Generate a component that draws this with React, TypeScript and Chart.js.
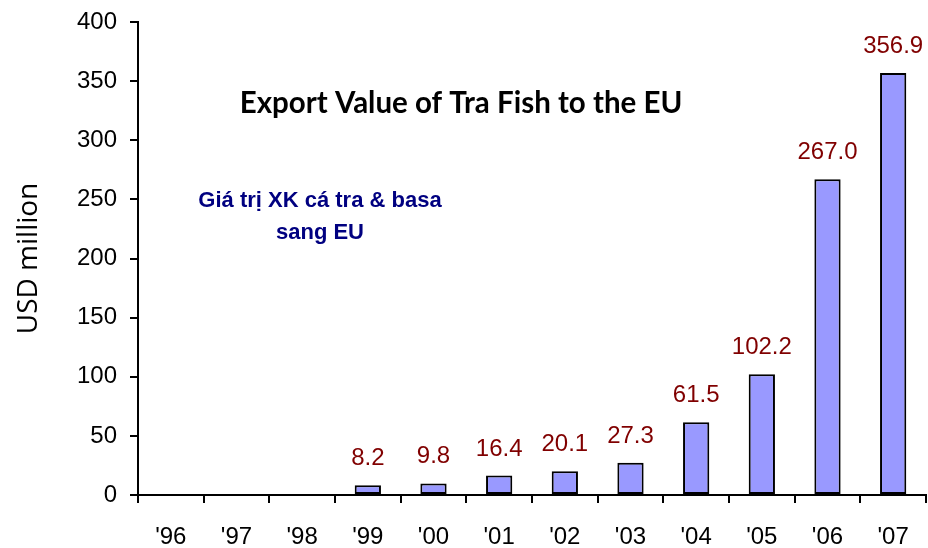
import React, { useEffect, useRef } from "react";
import { Chart, registerables } from "chart.js";

Chart.register(...registerables);

const categories = ["'96", "'97", "'98", "'99", "'00", "'01", "'02", "'03", "'04", "'05", "'06", "'07"];
const exportValues: (number | null)[] = [null, null, null, 8.2, 9.8, 16.4, 20.1, 27.3, 61.5, 102.2, 267.0, 356.9];
const yTickMin = 0;
const yTickMax = 400;
const yTickStep = 50;
const chartTitle = "Export Value of Tra Fish to the EU";
const subtitleLines = ["Giá trị XK cá tra & basa", "sang EU"];
const yAxisTitle = "USD million";

const overlayPlugin = {
  id: "overlayText",
  afterDatasetsDraw(chart: any) {
    const ctx = chart.ctx;
    ctx.save();
    const meta = chart.getDatasetMeta(0);
    ctx.font = "24px 'Liberation Sans', Arial, sans-serif";
    ctx.fillStyle = "#800000";
    ctx.textAlign = "center";
    ctx.textBaseline = "alphabetic";
    meta.data.forEach((bar: any, i: number) => {
      const v = exportValues[i];
      if (v == null) return;
      ctx.fillText(v.toFixed(1), bar.x, bar.y - 20);
    });
    ctx.font = "bold 29.5px Lato, sans-serif";
    ctx.fillStyle = "#000000";
    ctx.textBaseline = "middle";
    ctx.fillText(chartTitle, 461, 103);
    ctx.font = "bold 22px 'Liberation Sans', Arial, sans-serif";
    ctx.fillStyle = "#000080";
    ctx.fillText(subtitleLines[0], 320, 201);
    ctx.fillText(subtitleLines[1], 320, 233);
    ctx.restore();
  },
};

export default function App() {
  const canvasRef = useRef<HTMLCanvasElement | null>(null);

  useEffect(() => {
    document.body.style.margin = "0";
    const canvas = canvasRef.current;
    if (!canvas) return;
    const chart = new Chart(canvas, {
      type: "bar",
      data: {
        labels: categories,
        datasets: [
          {
            data: exportValues as any,
            backgroundColor: "#9999FF",
            borderColor: "#000000",
            borderWidth: 2,
            borderSkipped: false,
            categoryPercentage: 1.0,
            barPercentage: 0.4,
          },
        ],
      },
      options: {
        animation: false,
        responsive: true,
        maintainAspectRatio: false,
        layout: { padding: { top: 22, right: 2, bottom: 0, left: 0 } },
        plugins: {
          legend: { display: false },
          title: { display: false },
          tooltip: { enabled: false },
        },
        scales: {
          x: {
            offset: true,
            grid: {
              offset: true,
              drawOnChartArea: false,
              drawTicks: true,
              tickLength: 8,
              color: "#000000",
              lineWidth: 2,
            },
            border: { color: "#000000", width: 2 },
            ticks: {
              color: "#000000",
              font: { family: "'Liberation Sans', Arial, sans-serif", size: 24 },
              padding: 20,
              maxRotation: 0,
              autoSkip: false,
            },
            afterFit: (scale: any) => {
              scale.height = 53;
              scale.paddingLeft = 0;
              scale.paddingRight = 0;
            },
          },
          y: {
            min: yTickMin,
            max: yTickMax,
            grid: {
              drawOnChartArea: false,
              drawTicks: true,
              tickLength: 8,
              color: "#000000",
              lineWidth: 2,
            },
            border: { color: "#000000", width: 2 },
            ticks: {
              stepSize: yTickStep,
              color: "#000000",
              font: { family: "'Liberation Sans', Arial, sans-serif", size: 24 },
              padding: 13,
            },
            title: {
              display: true,
              text: yAxisTitle,
              color: "#000000",
              font: { family: "'Open Sans', sans-serif", size: 28 },
              padding: { top: 12, bottom: 0 },
            },
            afterFit: (scale: any) => {
              scale.width = 138;
              scale.paddingTop = 0;
              scale.paddingBottom = 0;
            },
          },
        },
      },
      plugins: [overlayPlugin],
    });
    return () => chart.destroy();
  }, []);

  return (
    <div style={{ position: "relative", width: 928, height: 548 }}>
      <canvas ref={canvasRef} />
    </div>
  );
}
